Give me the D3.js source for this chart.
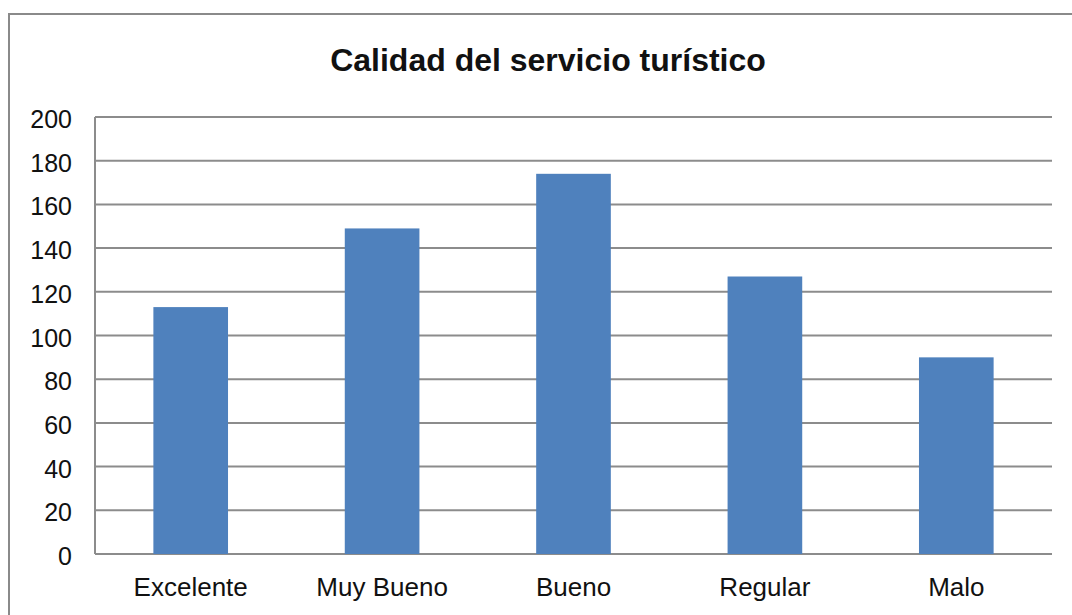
<!DOCTYPE html>
<html>
<head>
<meta charset="utf-8">
<script src="https://d3js.org/d3.v7.min.js"></script>
<style>
  body { margin: 0; background: #fff; }
  text { font-family: "Liberation Sans", Arial, sans-serif; fill: #111; }
</style>
</head>
<body>
<div id="chart"></div>
<script>
// data
const categories = ["Excelente", "Muy Bueno", "Bueno", "Regular", "Malo"];
const values = [113, 149, 174, 127, 90];
const yTicks = [0, 20, 40, 60, 80, 100, 120, 140, 160, 180, 200];
const title = "Calidad del servicio turístico";

const width = 1072, height = 615;
const margin = {top: 117, right: 20, bottom: 61, left: 95};
const plotW = 1052 - margin.left, plotH = 554 - margin.top;

const svg = d3.select("#chart").append("svg")
    .attr("width", width)
    .attr("height", height);

// outer frame
svg.append("rect")
    .attr("x", 9).attr("y", 14)
    .attr("width", width).attr("height", height)
    .attr("fill", "none")
    .attr("stroke", "#8a8a8a")
    .attr("stroke-width", 2);

svg.append("text")
    .attr("x", 548).attr("y", 71)
    .attr("text-anchor", "middle")
    .style("font-size", "32px")
    .style("font-weight", "bold")
    .text(title);

const g = svg.append("g")
    .attr("transform", `translate(${margin.left},${margin.top})`);

const x = d3.scaleBand().domain(categories).range([0, plotW]);
const y = d3.scaleLinear().domain([0, 200]).range([plotH, 0]);

// gridlines
g.selectAll(".grid").data(yTicks).join("line")
    .attr("x1", 0).attr("x2", plotW)
    .attr("y1", d => y(d)).attr("y2", d => y(d))
    .attr("stroke", "#8c8c8c")
    .attr("stroke-width", 2);

// left axis line
g.append("line")
    .attr("x1", 0).attr("x2", 0)
    .attr("y1", 0).attr("y2", plotH)
    .attr("stroke", "#8c8c8c")
    .attr("stroke-width", 2);

// y tick labels
const yAxis = g.append("g").call(d3.axisLeft(y).tickValues(yTicks).tickSize(0).tickPadding(23));
yAxis.select(".domain").remove();
yAxis.selectAll("text")
    .style("font-size", "25px")
    .attr("dy", "0.42em");

// bars
const barW = x.bandwidth() * 0.39;
g.selectAll(".bar").data(values).join("rect")
    .attr("x", (d, i) => x(categories[i]) + (x.bandwidth() - barW) / 2)
    .attr("y", d => y(d))
    .attr("width", barW)
    .attr("height", d => plotH - y(d))
    .attr("fill", "#4f81bd");

// x labels
const xAxis = g.append("g")
    .attr("transform", `translate(0,${plotH})`)
    .call(d3.axisBottom(x).tickSize(0).tickPadding(24));
xAxis.select(".domain").remove();
xAxis.selectAll("text").style("font-size", "26px");
</script>
</body>
</html>
